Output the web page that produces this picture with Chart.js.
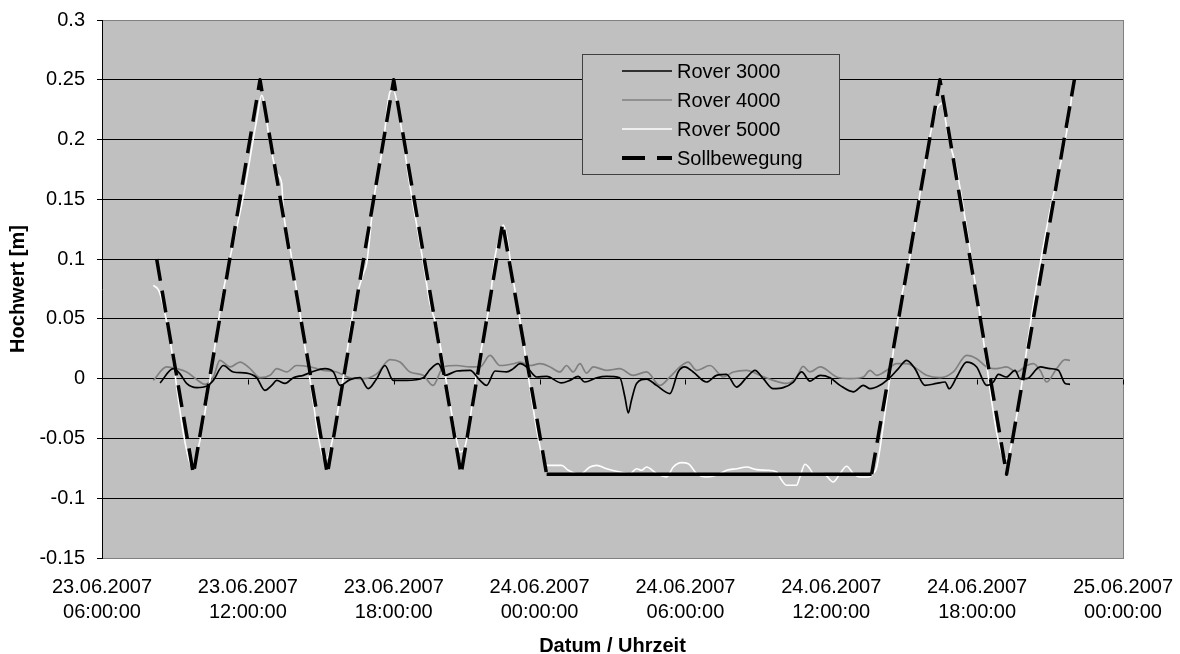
<!DOCTYPE html>
<html>
<head>
<meta charset="utf-8">
<script src="https://cdn.jsdelivr.net/npm/chart.js@4.4.1/dist/chart.umd.min.js"></script>
<style>
  html, body { margin: 0; padding: 0; background: #ffffff; }
  #wrap { width: 1180px; height: 654px; position: relative; }
  canvas { display: block; }
</style>
</head>
<body>
<div id="wrap"><canvas id="c" width="1180" height="654"></canvas></div>
<script>
// ---- DATA (hours since 23.06.2007 00:00, values in m) ----
const xTickLabels = [
  ['23.06.2007', '06:00:00'], ['23.06.2007', '12:00:00'], ['23.06.2007', '18:00:00'],
  ['24.06.2007', '00:00:00'], ['24.06.2007', '06:00:00'], ['24.06.2007', '12:00:00'],
  ['24.06.2007', '18:00:00'], ['25.06.2007', '00:00:00']
];
const seriesLabels = ['Rover 3000', 'Rover 4000', 'Rover 5000', 'Sollbewegung'];

const sollHours  = [8.25, 9.76, 12.5, 15.27, 18.0, 20.77, 22.48, 24.29, 37.66, 40.47, 43.21, 46.0];
const sollValues = [0.10, -0.08, 0.25, -0.08, 0.25, -0.08, 0.13, -0.08, -0.08, 0.25, -0.08, 0.25];

const rover3000Hours = [8.39, 8.93, 9.21, 9.48, 9.9, 10.3, 10.58, 10.99, 11.4, 11.95, 12.36, 12.7, 12.98, 13.19, 13.53, 13.87, 14.28, 14.63, 15.17, 15.52, 15.79, 16.2, 16.61, 16.95, 17.3, 17.64, 17.98, 18.53, 19.22, 19.49, 19.83, 20.11, 20.59, 21.14, 21.55, 21.82, 22.17, 22.65, 22.92, 23.2, 23.47, 23.88, 24.29, 24.9, 25.25, 25.59, 25.86, 26.35, 26.76, 27.3, 27.51, 27.65, 27.78, 27.99, 28.4, 28.81, 29.36, 29.7, 29.97, 30.32, 30.87, 31.28, 31.69, 32.1, 32.51, 32.86, 33.2, 33.61, 34.02, 34.44, 34.78, 35.12, 35.54, 35.95, 36.36, 36.91, 37.32, 37.6, 38.0, 38.41, 38.76, 39.1, 39.44, 39.85, 40.33, 40.68, 40.85, 41.16, 41.57, 41.98, 42.39, 42.67, 42.87, 43.21, 43.56, 43.76, 44.04, 44.59, 45.0, 45.34, 45.62, 45.82];
const rover3000Values = [-0.0036, 0.0084, 0.004, -0.004, -0.0075, -0.0064, -0.0014, 0.011, 0.0056, 0.0047, 0.0008, -0.0098, -0.0056, -0.0014, -0.004, 0.0008, 0.0028, 0.0056, 0.0084, 0.0056, -0.0056, -0.0008, 0.0008, -0.0084, 0.0, 0.011, -0.0014, -0.0014, 0.0008, 0.0075, 0.0125, 0.0028, 0.0064, 0.007, -0.0014, -0.0056, 0.0064, 0.0056, 0.0084, 0.0125, 0.0098, 0.0014, 0.002, -0.0036, -0.0014, 0.002, -0.0028, 0.0008, 0.002, 0.0008, -0.0153, -0.0287, -0.018, -0.004, -0.0003, -0.0056, -0.0125, 0.0056, 0.0098, 0.0056, -0.0028, 0.0028, 0.0036, -0.007, 0.0008, 0.007, 0.0, -0.0084, -0.0075, -0.0028, 0.0056, -0.002, 0.0028, 0.0008, -0.0056, -0.011, -0.0056, -0.0084, -0.0056, 0.0008, 0.0084, 0.0153, 0.0084, -0.0056, -0.004, -0.0028, -0.0084, 0.0014, 0.0139, 0.0098, -0.0056, -0.0028, 0.0036, 0.0014, 0.007, 0.0, 0.0, 0.0098, 0.0084, 0.007, -0.004, -0.0047];

const rover4000Hours = [8.11, 8.66, 9.07, 9.48, 9.9, 10.24, 10.58, 10.85, 11.27, 11.68, 12.09, 12.5, 12.91, 13.19, 13.6, 14.0, 14.56, 15.1, 15.65, 16.2, 16.75, 17.3, 17.85, 18.26, 18.67, 19.21, 19.62, 20.04, 20.59, 21.14, 21.55, 21.96, 22.37, 22.92, 23.2, 23.61, 24.02, 24.43, 24.84, 25.11, 25.38, 25.66, 25.93, 26.21, 26.76, 27.3, 27.85, 28.4, 28.95, 29.36, 29.77, 30.11, 30.46, 31.01, 31.56, 31.97, 32.51, 33.06, 33.61, 34.16, 34.57, 34.84, 35.12, 35.54, 36.22, 36.77, 37.32, 37.59, 37.86, 38.28, 38.69, 39.1, 39.51, 39.92, 40.47, 41.02, 41.57, 41.98, 42.39, 42.8, 43.21, 43.62, 44.04, 44.31, 44.59, 44.86, 45.27, 45.62, 45.82];
const rover4000Values = [-0.0014, 0.0098, 0.0084, 0.0056, -0.0008, -0.0047, 0.0014, 0.0153, 0.0098, 0.0139, 0.0084, 0.0008, 0.0028, 0.0084, 0.0056, 0.011, 0.0098, 0.007, 0.0056, 0.0008, 0.0, 0.004, 0.0159, 0.0139, 0.0056, 0.0028, -0.0056, 0.0098, 0.011, 0.0098, 0.0098, 0.0195, 0.011, 0.0125, 0.0139, 0.011, 0.0125, 0.0098, 0.0056, 0.011, 0.0056, 0.0125, 0.0047, 0.0098, 0.007, 0.0084, 0.0028, 0.0056, -0.0056, 0.0014, 0.0098, 0.0139, 0.007, 0.011, 0.0014, 0.0056, 0.007, 0.0028, -0.0014, -0.004, 0.0014, 0.0103, 0.0056, 0.0098, 0.0014, 0.0, 0.0014, 0.007, 0.0028, 0.007, 0.0125, 0.0125, 0.0084, 0.0028, 0.0008, 0.0056, 0.0195, 0.0167, 0.0098, 0.0084, 0.0098, 0.0056, 0.011, 0.0125, 0.007, -0.0028, 0.0084, 0.0159, 0.0153];

const rover5000Hours = [8.11, 8.32, 8.46, 8.8, 9.35, 9.62, 9.69, 10.03, 10.44, 10.92, 11.13, 11.81, 12.36, 12.57, 12.91, 13.19, 13.39, 13.46, 13.73, 14.56, 15.1, 15.24, 15.45, 15.93, 16.34, 16.75, 16.89, 17.16, 17.57, 17.85, 17.98, 18.19, 18.67, 19.22, 19.49, 19.77, 20.18, 20.59, 20.73, 20.93, 21.41, 21.96, 22.17, 22.37, 22.51, 22.65, 22.85, 23.13, 24.15, 24.36, 24.91, 25.18, 25.66, 26.07, 26.35, 26.76, 27.31, 27.72, 27.99, 28.2, 28.4, 28.82, 29.23, 29.5, 29.84, 30.12, 30.46, 30.87, 31.28, 31.7, 32.11, 32.52, 32.93, 33.34, 33.75, 33.96, 34.16, 34.57, 34.71, 34.92, 35.12, 35.26, 35.67, 36.08, 36.36, 36.63, 36.91, 37.18, 37.52, 37.73, 37.87, 38.28, 38.83, 39.24, 39.92, 40.33, 40.54, 40.81, 41.16, 41.98, 43.08, 43.21, 43.62, 44.31, 45.0, 45.55, 45.82, 45.89];
const rover5000Values = [0.078, 0.0742, 0.0658, 0.032, -0.046, -0.071, -0.0725, -0.0516, -0.0014, 0.0655, 0.088, 0.152, 0.216, 0.237, 0.197, 0.172, 0.1635, 0.141, 0.11, -0.0014, -0.0655, -0.067, -0.054, 0.0014, 0.057, 0.088, 0.0966, 0.1467, 0.197, 0.24, 0.2415, 0.2247, 0.161, 0.0966, 0.063, 0.0432, -0.0042, -0.0516, -0.0613, -0.057, 0.0042, 0.0655, 0.1025, 0.119, 0.1285, 0.119, 0.0907, 0.0574, -0.068, -0.0725, -0.0725, -0.0766, -0.08, -0.0739, -0.0725, -0.0753, -0.078, -0.0794, -0.0753, -0.0766, -0.0739, -0.0794, -0.0822, -0.0739, -0.0702, -0.0711, -0.0794, -0.0822, -0.0808, -0.0766, -0.0753, -0.0739, -0.0761, -0.0766, -0.078, -0.085, -0.0892, -0.0892, -0.0822, -0.0716, -0.0753, -0.0794, -0.0794, -0.0864, -0.0794, -0.0733, -0.0794, -0.0822, -0.0822, -0.0794, -0.0739, -0.018, 0.062, 0.102, 0.1885, 0.2247, 0.2303, 0.2024, 0.1746, 0.072, -0.0655, -0.067, -0.032, 0.062, 0.141, 0.1913, 0.2247, 0.236];

// ---- helpers ----
function toPoints(hours, values) {
  return hours.map((h, i) => ({ x: h, y: values[i] }));
}

const FONT = '"Liberation Sans", Arial, Helvetica, sans-serif';

const plotBg = {
  id: 'plotBg',
  beforeDraw(chart) {
    const { ctx, chartArea: a } = chart;
    ctx.save();
    ctx.fillStyle = '#C0C0C0';
    ctx.fillRect(a.left, a.top, a.right - a.left, a.bottom - a.top);
    ctx.restore();
  }
};

const frameAndAxis = {
  id: 'frameAndAxis',
  beforeDatasetsDraw(chart) {
    const { ctx, chartArea: a, scales } = chart;
    ctx.save();
    ctx.strokeStyle = '#808080';
    ctx.lineWidth = 1;
    ctx.beginPath();
    ctx.moveTo(Math.round(a.right) + 0.5, a.top);
    ctx.lineTo(Math.round(a.right) + 0.5, a.bottom);
    ctx.stroke();
    const y0 = Math.round(scales.y.getPixelForValue(0)) + 0.5;
    ctx.strokeStyle = '#000000';
    ctx.beginPath();
    scales.x.ticks.forEach(t => {
      const px = Math.round(scales.x.getPixelForValue(t.value)) + 0.5;
      ctx.moveTo(px, y0);
      ctx.lineTo(px, y0 + 5);
    });
    ctx.stroke();
    ctx.restore();
  }
};

const boxLegend = {
  id: 'boxLegend',
  afterDraw(chart) {
    const { ctx, chartArea: a } = chart;
    const bx = a.left + 480, by = a.top + 34, bw = 257, bh = 120;
    ctx.save();
    ctx.fillStyle = '#C0C0C0';
    ctx.fillRect(bx, by, bw, bh);
    ctx.strokeStyle = '#404040';
    ctx.lineWidth = 1;
    ctx.strokeRect(Math.round(bx) + 0.5, Math.round(by) + 0.5, bw, bh);
    seriesLabels.forEach((lbl, i) => {
      const ds = chart.data.datasets.find(d => d.label === lbl);
      const yy = by + 17 + i * 29;
      ctx.beginPath();
      ctx.strokeStyle = ds.borderColor;
      ctx.lineWidth = ds.legendWidth;
      ctx.setLineDash(ds.legendDash || []);
      ctx.lineCap = 'butt';
      ctx.moveTo(bx + 40, yy);
      ctx.lineTo(bx + 90, yy);
      ctx.stroke();
      ctx.setLineDash([]);
      ctx.fillStyle = '#000000';
      ctx.font = '20px ' + FONT;
      ctx.textBaseline = 'middle';
      ctx.textAlign = 'left';
      ctx.fillText(lbl, bx + 95, yy + 1);
    });
    ctx.restore();
  }
};

const chart = new Chart(document.getElementById('c'), {
  type: 'line',
  data: {
    datasets: [
      {
        label: seriesLabels[3],
        data: toPoints(sollHours, sollValues),
        borderColor: '#000000',
        borderWidth: 3.5,
        borderDash: [22, 10],
        legendDash: [23, 12],
        legendWidth: 4,
        borderCapStyle: 'butt',
        borderJoinStyle: 'round',
        tension: 0,
        pointRadius: 0,
        order: 0,
        segment: {
          borderDash: c => (c.p0.parsed.y === c.p1.parsed.y ? [] : undefined)
        }
      },
      {
        label: seriesLabels[0],
        data: toPoints(rover3000Hours, rover3000Values),
        borderColor: '#000000',
        borderWidth: 1.7,
        legendWidth: 1.5,
        borderJoinStyle: 'round',
        cubicInterpolationMode: 'monotone',
        pointRadius: 0,
        order: 1
      },
      {
        label: seriesLabels[2],
        data: toPoints(rover5000Hours, rover5000Values),
        borderColor: '#FFFFFF',
        borderWidth: 1.6,
        legendWidth: 1.5,
        borderJoinStyle: 'round',
        cubicInterpolationMode: 'monotone',
        pointRadius: 0,
        order: 2
      },
      {
        label: seriesLabels[1],
        data: toPoints(rover4000Hours, rover4000Values),
        borderColor: '#808080',
        borderWidth: 1.7,
        legendWidth: 1.5,
        borderJoinStyle: 'round',
        cubicInterpolationMode: 'monotone',
        pointRadius: 0,
        order: 3
      }
    ]
  },
  options: {
    responsive: false,
    animation: false,
    devicePixelRatio: 1,
    layout: { padding: { top: 20, right: 57, left: 0, bottom: 0 } },
    plugins: {
      legend: { display: false },
      tooltip: { enabled: false }
    },
    elements: { line: { fill: false } },
    scales: {
      x: {
        type: 'linear',
        min: 6,
        max: 48,
        afterFit(scale) { scale.height = 96; scale.paddingLeft = 0; scale.paddingRight = 0; },
        ticks: {
          stepSize: 6,
          autoSkip: false,
          maxRotation: 0,
          padding: 17,
          color: '#000000',
          font: { family: FONT, size: 20, lineHeight: 1.25 },
          callback: (v, i) => xTickLabels[i]
        },
        grid: { display: true, drawOnChartArea: false, drawTicks: false },
        border: { display: true, color: '#808080', width: 1 },
        title: {
          display: true,
          text: 'Datum / Uhrzeit',
          color: '#000000',
          font: { family: FONT, size: 20, weight: 'bold', lineHeight: 0.8 },
          padding: 0
        }
      },
      y: {
        min: -0.15,
        max: 0.3,
        afterFit(scale) { scale.width = 102; scale.paddingTop = 0; scale.paddingBottom = 0; },
        ticks: {
          stepSize: 0.05,
          padding: 12,
          color: '#000000',
          font: { family: FONT, size: 20 },
          callback: v => String(+v.toFixed(2))
        },
        grid: {
          color: c => (Math.abs(c.tick.value - 0.3) < 1e-6 || Math.abs(c.tick.value + 0.15) < 1e-6 ? '#808080' : '#000000'),
          tickColor: '#000000',
          tickLength: 5,
          lineWidth: 1
        },
        border: { display: true, color: '#000000', width: 1 },
        title: {
          display: true,
          text: 'Hochwert [m]',
          color: '#000000',
          font: { family: FONT, size: 20, weight: 'bold', lineHeight: 1.2 },
          padding: { top: 6, bottom: 0 }
        }
      }
    }
  },
  plugins: [plotBg, frameAndAxis, boxLegend]
});
</script>
</body>
</html>
